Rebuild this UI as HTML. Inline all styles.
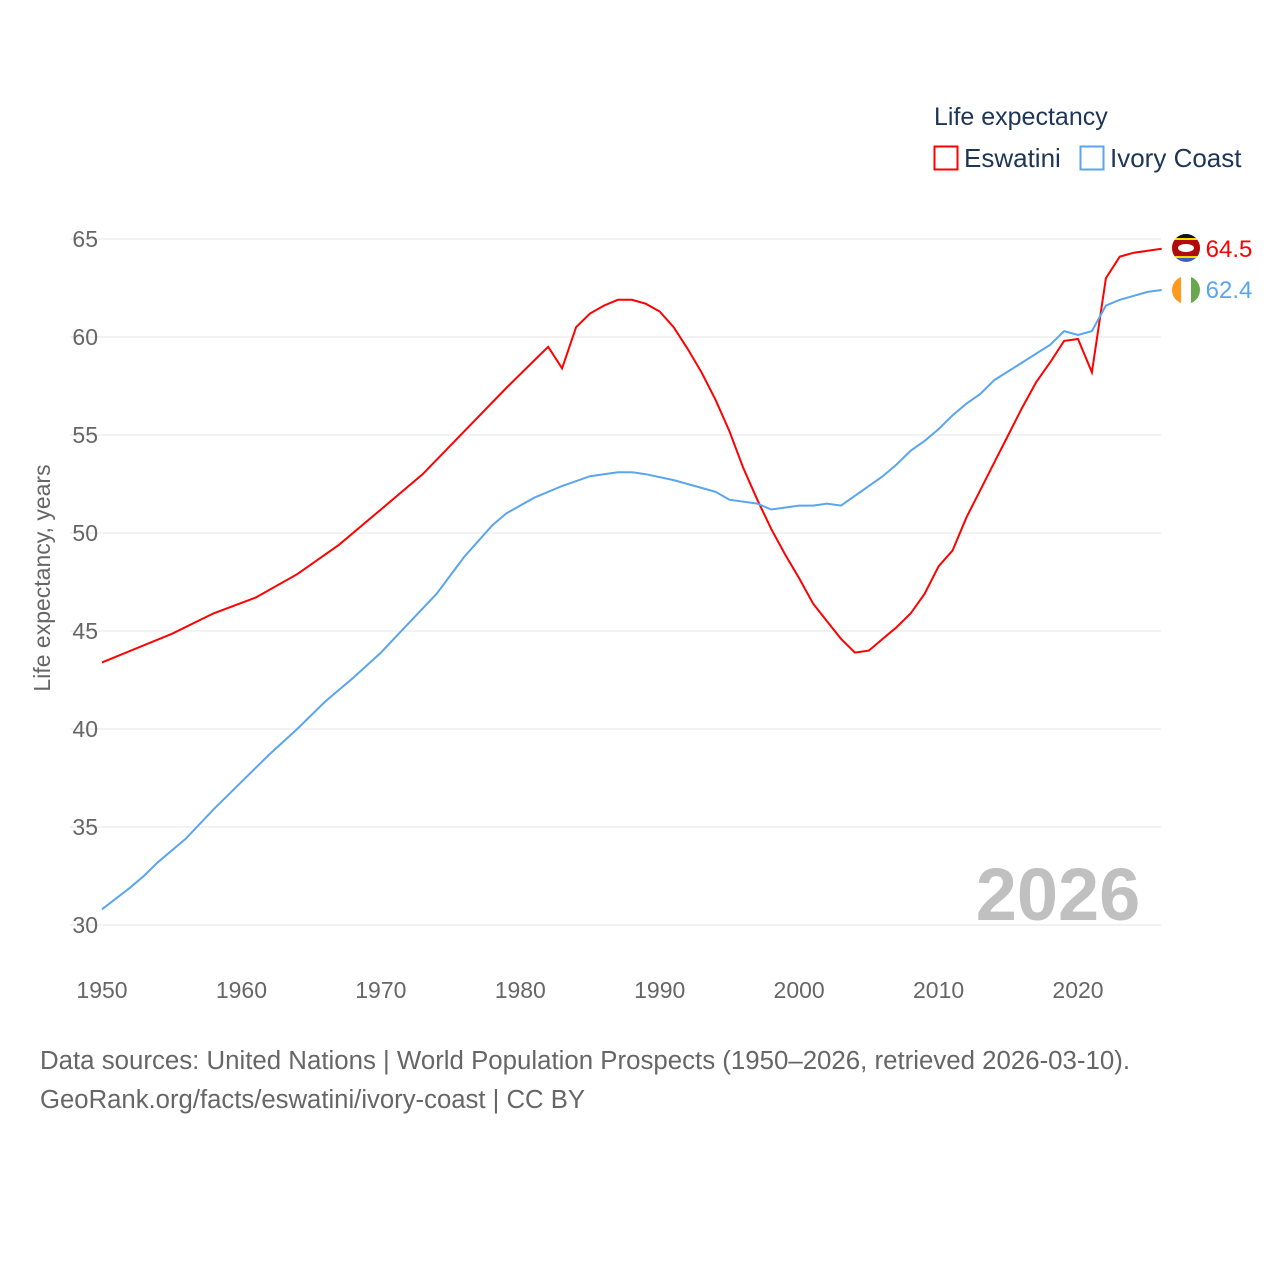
<!DOCTYPE html>
<html><head><meta charset="utf-8"><style>
body{margin:0;background:#fff;font-family:"Liberation Sans",sans-serif;}
svg text{font-family:"Liberation Sans",sans-serif;}
</style></head><body>
<svg id="chart" width="1280" height="1280" viewBox="0 0 1280 1280">
<defs>
<clipPath id="c1"><circle cx="1186" cy="248" r="14"/></clipPath>
<clipPath id="c2"><circle cx="1186" cy="290" r="14"/></clipPath>
</defs>
<g id="grid"></g>
<g id="series"></g>
<text x="934" y="125" font-size="25" fill="#1d3557">Life expectancy</text>
<g>
<rect x="934.5" y="146.5" width="23" height="23" fill="none" stroke="#ff0000" stroke-width="2"/>
<text x="964" y="167" font-size="26" fill="#1d3557">Eswatini</text></g>
<g>
<rect x="1080.5" y="146.5" width="23" height="23" fill="none" stroke="#5aa5ee" stroke-width="2"/>
<text x="1110" y="167" font-size="26" fill="#1d3557">Ivory Coast</text></g>
<text x="1058" y="920" font-size="74" font-weight="bold" fill="#c0c0c0" text-anchor="middle">2026</text>
<text transform="translate(50,578) rotate(-90)" font-size="23" fill="#666" text-anchor="middle">Life expectancy, years</text>
<text x="40" y="1069" font-size="25.5" fill="#666" textLength="1090" lengthAdjust="spacingAndGlyphs">Data sources: United Nations | World Population Prospects (1950–2026, retrieved 2026-03-10).</text>
<text x="40" y="1108" font-size="25.5" fill="#666" textLength="545" lengthAdjust="spacingAndGlyphs">GeoRank.org/facts/eswatini/ivory-coast | CC BY</text>
<g clip-path="url(#c1)">
<rect x="1170" y="232" width="32" height="32" fill="#3e5eb9"/>
<rect x="1170" y="238" width="32" height="20" fill="#ffd900"/>
<rect x="1170" y="240" width="32" height="16" fill="#b10c0c"/>
<ellipse cx="1186" cy="248" rx="8" ry="4" fill="#fff"/>
<rect x="1170" y="232" width="32" height="6" fill="#111"/>
</g>
<g clip-path="url(#c2)">
<rect x="1170" y="274" width="11" height="32" fill="#ff9a1f"/>
<rect x="1181" y="274" width="10" height="32" fill="#fff"/>
<rect x="1191" y="274" width="11" height="32" fill="#6aa84f"/>
</g>
</svg>
<script>
const yTicks=[30,35,40,45,50,55,60,65];
const xTicks=[1950,1960,1970,1980,1990,2000,2010,2020];
const eswYears=[1950,1955,1958,1961,1964,1967,1970,1973,1976,1979,1981,1982,1983,1984,1985,1986,1987,1988,1989,1990,1991,1992,1993,1994,1995,1996,1997,1998,1999,2000,2001,2002,2003,2004,2005,2006,2007,2008,2009,2010,2011,2012,2013,2014,2015,2016,2017,2018,2019,2020,2021,2022,2023,2024,2025,2026];
const eswValues=[43.4,44.85,45.9,46.7,47.9,49.4,51.2,53.0,55.2,57.4,58.8,59.5,58.4,60.5,61.2,61.6,61.9,61.9,61.7,61.3,60.5,59.4,58.2,56.8,55.2,53.3,51.7,50.2,48.9,47.7,46.4,45.5,44.6,43.9,44.0,44.6,45.2,45.9,46.9,48.3,49.1,50.8,52.2,53.6,55.0,56.4,57.7,58.7,59.8,59.9,58.2,63.0,64.1,64.3,64.4,64.5];
const civYears=[1950,1952,1953,1954,1956,1958,1960,1962,1964,1966,1968,1970,1972,1974,1976,1977,1978,1979,1981,1983,1985,1987,1988,1989,1991,1993,1994,1995,1997,1998,2000,2001,2002,2003,2004,2006,2007,2008,2009,2010,2011,2012,2013,2014,2016,2018,2019,2020,2021,2022,2023,2024,2025,2026];
const civValues=[30.8,31.9,32.5,33.2,34.4,35.9,37.3,38.7,40.0,41.4,42.6,43.9,45.4,46.9,48.8,49.6,50.4,51.0,51.8,52.4,52.9,53.1,53.1,53.0,52.7,52.3,52.1,51.7,51.5,51.2,51.4,51.4,51.5,51.4,51.9,52.9,53.5,54.2,54.7,55.3,56.0,56.6,57.1,57.8,58.7,59.6,60.3,60.1,60.3,61.6,61.9,62.1,62.3,62.4];
const NS='http://www.w3.org/2000/svg';
const X=y=>102+(y-1950)*(1078-102)/70;
const Y=v=>925-(v-30)*(686/35);
function mk(t,a,p){const e=document.createElementNS(NS,t);for(const k in a)e.setAttribute(k,a[k]);p.appendChild(e);return e;}
const grid=document.getElementById('grid');
yTicks.forEach(v=>{
 const l=mk('line',{x1:70,x2:1161,y1:Y(v),y2:Y(v),stroke:'#e6e6e6','stroke-width':1},grid);
 
 
 const t=mk('text',{x:98,y:Y(v)+8,'font-size':23,fill:'#666','text-anchor':'end'},grid);
 t.textContent=v;
 
 
});
xTicks.forEach(y=>{
 const t=mk('text',{x:X(y),y:998,'font-size':23,fill:'#666','text-anchor':'middle'},grid);
 t.textContent=y;
 
 
});
const ser=document.getElementById('series');
function line(ys,vs,col,name){
 const p=mk('path',{d:ys.map((y,i)=>(i?'L':'M')+X(y).toFixed(1)+','+Y(vs[i]).toFixed(1)).join(''),fill:'none',stroke:col,'stroke-width':2},ser);
 
 
 const lx=X(ys[ys.length-1])+24, ly=Y(vs[vs.length-1]);
 const t=mk('text',{x:lx+20,y:ly+8,'font-size':24,fill:col},ser);
 t.textContent=vs[vs.length-1].toFixed(1);
 
 
}
line(eswYears,eswValues,'#ff0000','eswatini-line');
line(civYears,civValues,'#5aa5ee','ivory-coast-line');
</script>
</body></html>
